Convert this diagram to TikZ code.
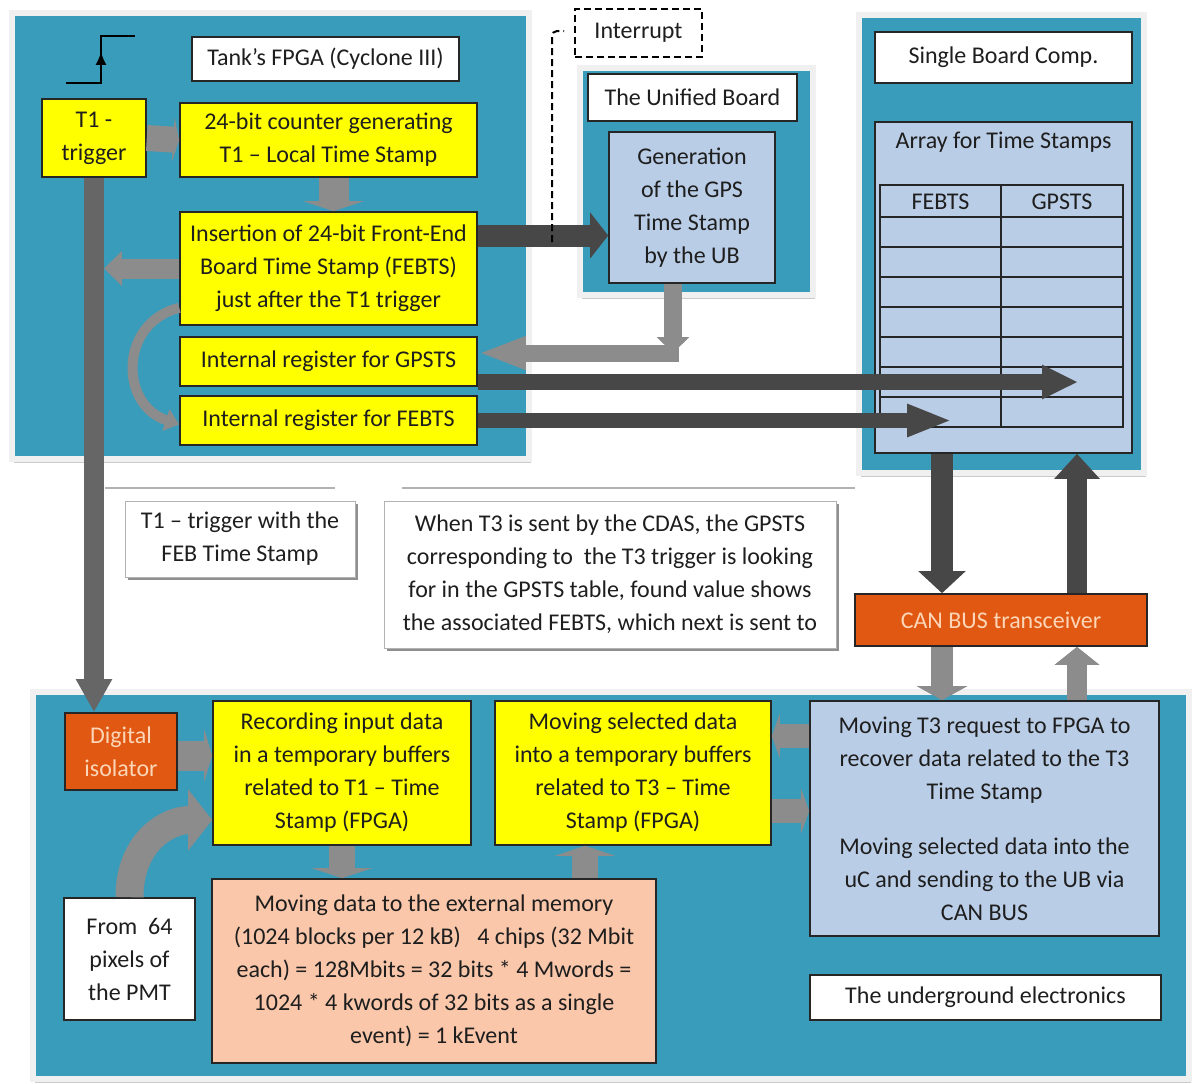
\documentclass[tikz,border=0pt]{standalone}
\usepackage{fontspec}
\setmainfont{Carlito}
\usetikzlibrary{arrows.meta,positioning,shadows,decorations.markings}

\definecolor{panelteal}{RGB}{56,156,186}
\definecolor{boxyellow}{RGB}{255,255,0}
\definecolor{boxblue}{RGB}{186,205,230}
\definecolor{memsalmon}{RGB}{250,199,170}
\definecolor{canorange}{RGB}{224,88,18}
\definecolor{peach}{RGB}{252,214,182}
\definecolor{inkgray}{RGB}{30,30,30}

\begin{document}
\begin{tikzpicture}[x=1pt,y=-1pt,
  txt/.style={font=\fontsize{24}{33}\selectfont,text=inkgray,align=center,inner sep=0pt},
  box/.style={txt,draw=black!85,line width=1.6pt},
  ybox/.style={box,fill=boxyellow},
  bbox/.style={box,fill=boxblue},
  wbox/.style={box,fill=white},
  obox/.style={box,fill=canorange,text=peach},
  note/.style={txt,fill=white,draw=gray!60,line width=1pt,
    drop shadow={shadow xshift=3pt,shadow yshift=-3pt,fill=black!55,opacity=0.8}},
  panel/.style={fill=panelteal,draw=gray!12,line width=6pt,
    drop shadow={shadow xshift=2pt,shadow yshift=-4pt,fill=black!40,opacity=0.5}},
  irqline/.style={line width=2pt,dash pattern=on 7pt off 4pt},
  fat/.style={draw=black!45,line width=24pt,-{Triangle[width=46pt,length=10pt]}},
  long/.style={draw=black!72,line width=16pt,-{Triangle[width=32pt,length=36pt]}}]
  \fill[white] (0,0) rectangle (1192,1084);
  \useasboundingbox (0,0) rectangle (1192,1084);

  % panels
  \path[panel] (12,13) rectangle (529,459);
  \path[panel] (580,68) rectangle (813,295);
  \path[panel] (859,15) rectangle (1144,473);
  \path[panel] (33,692) rectangle (1189,1079);
  \draw[gray!60,line width=1.5pt] (105,488) -- (335,488);
  \draw[gray!60,line width=1.5pt] (402,488) -- (855,488);

  % tank FPGA
  \node[wbox,minimum width=267,minimum height=44] (fpgattl) at (325.5,59) {Tank’s FPGA (Cyclone III)};
  \node[ybox,minimum width=104,minimum height=78] (t1trig) at (94,138) {T1 -\\trigger};
  \node[ybox,minimum width=297,minimum height=74] (counter) at (328.5,140) {24-bit counter generating\\T1 – Local Time Stamp};
  \node[ybox,minimum width=297,minimum height=113] (insert) at (328.5,268.5) {Insertion of 24-bit Front-End\\Board Time Stamp (FEBTS)\\just after the T1 trigger};
  \node[ybox,minimum width=297,minimum height=49] (reggps) at (328.5,361.5) {Internal register for GPSTS};
  \node[ybox,minimum width=297,minimum height=49] (regfeb) at (328.5,420.5) {Internal register for FEBTS};
  \draw[line width=1.8pt,postaction={decorate,decoration={markings,
      mark=at position 0.57 with {\arrow{Latex[length=13pt,width=11pt]}}}}]
    (66,83) -- (101,83) -- (101,36) -- (135,36);

  % unified board
  \node[txt,draw,irqline,minimum width=127,minimum height=48] (irq) at (638.5,33) {Interrupt};
  \node[wbox,minimum width=209,minimum height=47] (ubttl) at (692.5,97.5) {The Unified Board};
  \node[bbox,minimum width=166,minimum height=151] (gps) at (692,207.5) {Generation\\of the GPS\\Time Stamp\\by the UB};

  % single board computer
  \node[wbox,minimum width=257,minimum height=51] (sbcttl) at (1003.5,57.5) {Single Board Comp.};
  \node[bbox,minimum width=257,minimum height=331] (array) at (1003.5,287.5) {};
  \node[txt,below=11pt of array.north] (arrttl) {Array for Time Stamps};
  \draw[black!85,line width=1.6pt] (880,185) rectangle (1123,427);
  \foreach \ry in {217,247,277,307,337,367,397}
    \draw[black!85,line width=1.6pt] (880,\ry) -- (1123,\ry);
  \draw[black!85,line width=1.6pt] (1001,185) -- (1001,427);
  \node[txt] (febhead) at (940.5,202) {FEBTS};
  \node[txt] (gpshead) at (1062,202) {GPSTS};
  \coordinate (gpscell) at (1078,382);
  \coordinate (febcell) at (952,420.5);

  % notes
  \node[note,minimum width=230,minimum height=76] (t1note) at (240,539) {T1 – trigger with the\\FEB Time Stamp};
  \node[note,minimum width=452,minimum height=147] (cdas) at (610,574.5) {When T3 is sent by the CDAS, the GPSTS\\corresponding to\ \ the T3 trigger is looking\\for in the GPSTS table, found value shows\\the associated FEBTS, which next is sent to};
  \node[obox,minimum width=292,minimum height=52] (can) at (1001,620) {CAN BUS transceiver};

  % underground electronics
  \node[obox,minimum width=112,minimum height=77] (digiso) at (121,751.5) {Digital\\isolator};
  \node[ybox,minimum width=258,minimum height=144] (rec) at (342,773) {Recording input data\\in a temporary buffers\\related to T1 – Time\\Stamp (FPGA)};
  \node[ybox,minimum width=276,minimum height=144] (sel) at (633,773) {Moving selected data\\into a temporary buffers\\related to T3 – Time\\Stamp (FPGA)};
  \node[bbox,minimum width=349,minimum height=235] (t3box) at (984.5,818.5) {Moving T3 request to FPGA to\\recover data related to the T3\\Time Stamp\\[22pt]Moving selected data into the\\uC and sending to the UB via\\CAN BUS};
  \node[wbox,minimum width=351,minimum height=45] (ugttl) at (985.5,997.5) {The underground electronics};
  \node[wbox,minimum width=131,minimum height=122] (from64) at (129.5,959) {From\ \ 64\\pixels of\\the PMT};
  \node[box,fill=memsalmon,minimum width=444,minimum height=184] (mem) at (434,971) {Moving data to the external memory\\(1024 blocks per 12 kB)\ \ \ 4 chips (32 Mbit\\each) = 128Mbits = 32 bits * 4 Mwords =\\1024 * 4 kwords of 32 bits as a single\\event) = 1 kEvent};

  % arrows inside the FPGA
  \coordinate (trigline) at (104,268.5);
  \draw[fat,line width=26pt,-{Triangle[width=44pt,length=6pt]}] (t1trig.east) -- (counter.west);
  \draw[fat,line width=30pt,-{Triangle[width=60pt,length=10pt]}] ([xshift=5pt]counter.south) -- ([xshift=5pt]insert.north);
  \draw[fat,line width=20pt,-{Triangle[width=34pt,length=18pt]}] (insert.west) -- (trigline);
  \draw[fat,line width=10pt,-{Triangle[width=22pt,length=14pt]}] ([yshift=18pt]insert.south west)
    .. controls +(-60,15) and +(-60,-20) .. ([yshift=-4pt]regfeb.west);
  \draw[long,draw=black!60,line width=20pt,-{Triangle[width=34pt,length=33pt]}] (t1trig.south) -- (t1trig.south |- digiso.north);

  % FPGA <-> unified board
  \draw[long,line width=22pt,-{Triangle[width=45pt,length=18pt]}] ([yshift=33pt]insert.east) -- ([yshift=33pt]insert.east -| gps.west);
  \coordinate (irqfoot) at (552,242);
  \coordinate (irqtop) at (564,31);
  \draw[irqline,rounded corners=5pt] (irqfoot) -- (irqfoot |- irqtop) -- (irqtop);
  \coordinate (gpsbend) at (673,353);
  \draw[fat,line width=17pt,-{Triangle[width=30pt,length=48pt]}] ([xshift=6pt]gpsbend) -- (reggps.east |- gpsbend);
  \draw[fat,line width=18pt,-{Triangle[width=32pt,length=16pt]}] (gps.south -| gpsbend) -- (gpsbend);

  % registers -> time stamp array
  \draw[long] (reggps.east |- gpscell) -- (gpscell);
  \draw[long,line width=15pt,-{Triangle[width=30pt,length=45pt]}] (regfeb.east) -- (febcell);

  % CAN bus links
  \coordinate (downx) at (942,0);
  \coordinate (upx) at (1077,0);
  \draw[long,line width=22pt,-{Triangle[width=46pt,length=22pt]}] (array.south -| downx) -- (can.north -| downx);
  \draw[long,line width=20pt,-{Triangle[width=44pt,length=25pt]}] (can.north -| upx) -- (array.south -| upx);
  \draw[fat,line width=22pt,-{Triangle[width=50pt,length=14pt]}] (can.south -| downx) -- (t3box.north -| downx);
  \draw[fat,line width=20pt,-{Triangle[width=44pt,length=18pt]}] (t3box.north -| upx) -- (can.south -| upx);

  % arrows in the underground electronics
  \coordinate (isoout) at ([yshift=-4pt]digiso.east);
  \draw[fat,line width=30pt,-{Triangle[width=52pt,length=8pt]}] (isoout) -- (isoout -| rec.west);
  \draw[fat,line width=28pt,-{Triangle[width=60pt,length=24pt]}] (from64.north)
    .. controls +(0,-55) and +(-45,0) .. ([yshift=-47pt]rec.west);
  \draw[fat,line width=26pt,-{Triangle[width=60pt,length=10pt]}] (rec.south) -- (rec.south |- mem.north);
  \coordinate (memout) at ([xshift=-48pt]sel.south);
  \draw[fat,line width=26pt,-{Triangle[width=60pt,length=10pt]}] (memout |- mem.north) -- (memout);
  \coordinate (selin) at ([yshift=37pt]sel.east);
  \coordinate (selout) at ([yshift=-38pt]sel.east);
  \draw[fat,line width=24pt,-{Triangle[width=44pt,length=8pt]}] (selin -| t3box.west) -- (selin);
  \draw[fat,line width=24pt,-{Triangle[width=44pt,length=8pt]}] (selout) -- (selout -| t3box.west);
\end{tikzpicture}
\end{document}
